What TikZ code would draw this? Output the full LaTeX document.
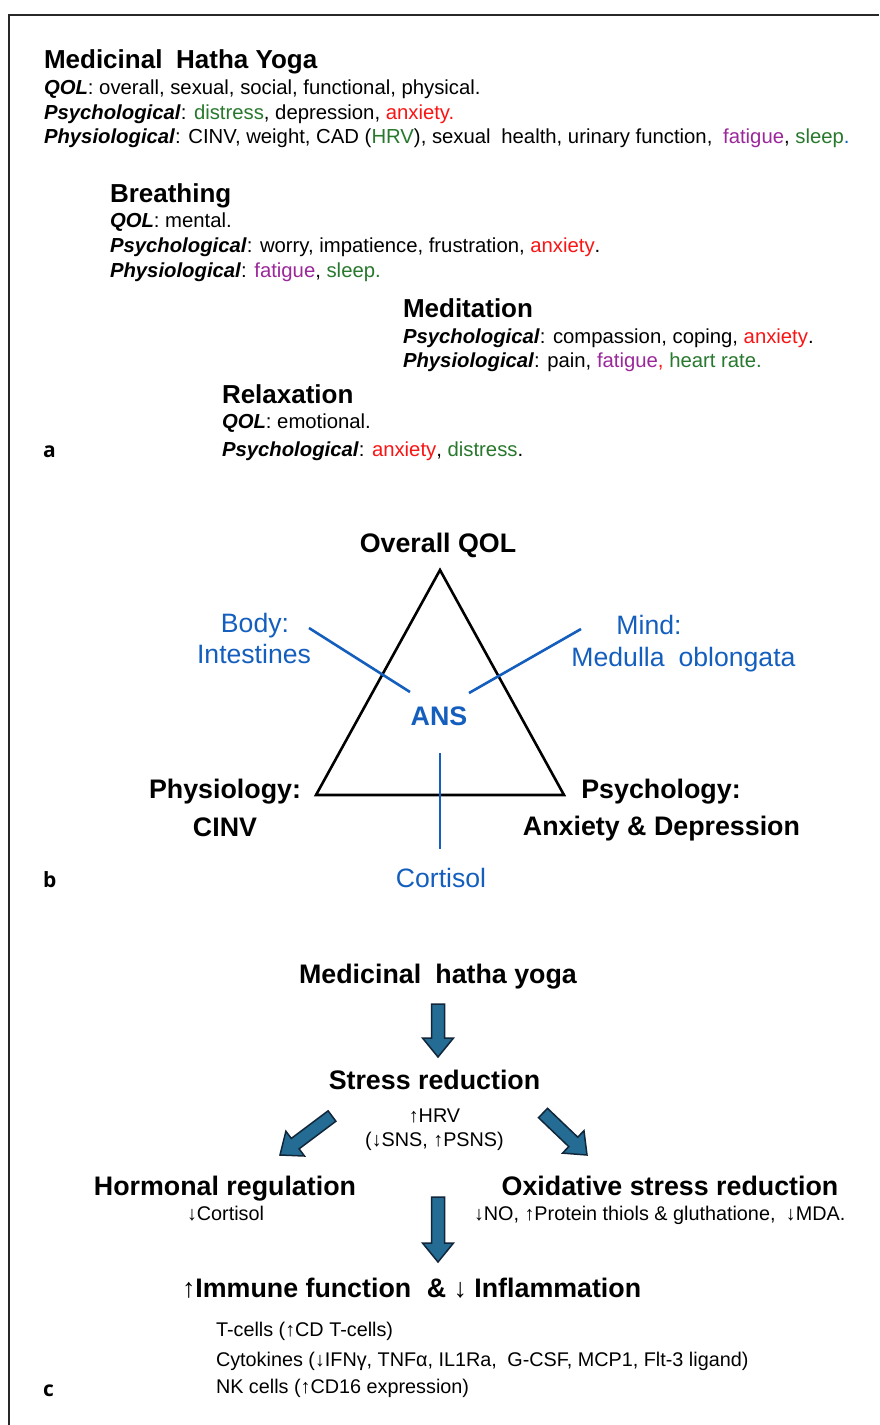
\documentclass[tikz,border=0pt]{standalone}
\usepackage{fontspec}
\setmainfont{Liberation Sans}
\newfontfamily\labfont{Open Sans}
\usetikzlibrary{calc}
\definecolor{tgreen}{RGB}{40,120,45}
\definecolor{tred}{RGB}{250,20,20}
\definecolor{tpurple}{RGB}{155,40,155}
\definecolor{tblue}{RGB}{20,95,190}
\definecolor{afill}{RGB}{36,108,148}
\definecolor{aline}{RGB}{18,38,58}
\definecolor{framec}{RGB}{40,40,40}
\tikzset{
  bw/.style={inner sep=0pt, outer sep=0pt, anchor=base west},
  bc/.style={inner sep=0pt, outer sep=0pt, anchor=base},
  headA/.style={bw, font=\fontsize{26}{30}\selectfont\bfseries},
  txtA/.style={bw, font=\fontsize{20.3}{24}\selectfont},
  headB/.style={bc, font=\fontsize{26.8}{30}\selectfont\bfseries},
  blueB/.style={bc, text=tblue, font=\fontsize{26.6}{30}\selectfont},
  txtC/.style={font=\fontsize{19.8}{24}\selectfont},
  panellab/.style={bw, font=\fontsize{21}{24}\labfont\bfseries},
  triline/.style={line width=2.6pt, line join=miter, black},
  blueline/.style={line width=2.6pt, tblue},
  fatarrow/.style={fill=afill, draw=aline, line width=1.5pt, line join=miter},
  framel/.style={line width=1.8pt, framec}
}
\newcommand\fatarrow[2]{%
  \coordinate (fa-h) at ($(#2)!19pt!(#1)$);
  \draw[fatarrow] ($(#1)!6.5pt!90:(#2)$) -- ($(fa-h)!6.5pt!90:(#2)$) -- ($(fa-h)!15.5pt!90:(#2)$) -- (#2) -- ($(fa-h)!15.5pt!-90:(#2)$) -- ($(fa-h)!6.5pt!-90:(#2)$) -- ($(#1)!6.5pt!-90:(#2)$) -- cycle;}
\newcommand\bi[1]{\textbf{\textit{#1}}}
\newcommand\xs{\hspace{0.25em}}
\begin{document}
\begin{tikzpicture}[x=1pt,y=-1pt]
\useasboundingbox (0,0) rectangle (879,1425);
\fill[white] (0,0) rectangle (879,1425);
% frame
\coordinate (fr-bl) at (9,1425);
\coordinate (fr-tl) at (9,15);
\coordinate (fr-tr) at (879,15);
\draw[framel] (fr-bl) -- (fr-tl) -- (fr-tr);

% ---------------- panel a
\node[headA] (mhy) at (44,68) {Medicinal\xs{} Hatha Yoga};
\node[txtA] (mhy1) at (44,94) {\bi{QOL}: overall, sexual, social, functional, physical.};
\node[txtA] (mhy2) at (44,119) {\bi{Psychological}: \textcolor{tgreen}{distress}, depression, \textcolor{tred}{anxiety.}};
\node[txtA] (mhy3) at (44,143) {\bi{Physiological}: CINV, weight, CAD (\textcolor{tgreen}{HRV}), sexual\xs{} health, urinary function,\xs{} \textcolor{tpurple}{fatigue}, \textcolor{tgreen}{sleep}\textcolor{tblue}{.}};

\node[headA] (br) at (110,202) {Breathing};
\node[txtA] (br1) at (110,227) {\bi{QOL}: mental.};
\node[txtA] (br2) at (110,252) {\bi{Psychological}: worry, impatience, frustration, \textcolor{tred}{anxiety}.};
\node[txtA] (br3) at (110,277) {\bi{Physiological}: \textcolor{tpurple}{fatigue}, \textcolor{tgreen}{sleep.}};

\node[headA] (med) at (403,317) {Meditation};
\node[txtA] (med1) at (403,343) {\bi{Psychological}: compassion, coping, \textcolor{tred}{anxiety}.};
\node[txtA] (med2) at (403,367) {\bi{Physiological}: pain, \textcolor{tpurple}{fatigue}\textcolor{tred}{,} \textcolor{tgreen}{heart rate.}};

\node[headA] (rel) at (222,403) {Relaxation};
\node[txtA] (rel1) at (222,428) {\bi{QOL}: emotional.};
\node[txtA] (rel2) at (222,456) {\bi{Psychological}: \textcolor{tred}{anxiety}, \textcolor{tgreen}{distress}.};

\node[panellab] (la) at (43,457) {a};

% ---------------- panel b
\coordinate (apex) at (440,570);
\coordinate (tbl) at (316,795);
\coordinate (tbr) at (564,795);
\draw[triline] (apex) -- (tbl) -- (tbr) -- cycle;

\node[headB] (oq) at (438,552) {Overall QOL};
\node[blueB] (body) at (255,632) {Body:};
\node[blueB] (intest) at (254,663) {Intestines};
\node[blueB] (mind) at (649,634) {Mind:};
\node[blueB] (medul) at (683.5,666) {Medulla\xs{} oblongata};
\node[bc, text=tblue, font=\fontsize{26.8}{30}\selectfont\bfseries] (ans) at (439,725) {ANS};
\node[headB] (phys) at (225,798) {Physiology:};
\node[headB] (cinv) at (225,836) {CINV};
\node[headB] (psych) at (661,798) {Psychology:};
\node[headB] (anx) at (661.5,835) {Anxiety \& Depression};
\node[blueB] (cort) at (441,887) {Cortisol};

\coordinate (body-e) at (309,628);
\coordinate (ans-l) at (410,692);
\coordinate (mind-e) at (581,629);
\coordinate (ans-r) at (469,693);
\coordinate (ans-b) at (440,753);
\coordinate (cort-t) at (440,849);
\draw[blueline] (body-e) -- (ans-l);
\draw[blueline] (mind-e) -- (ans-r);
\draw[blueline] (ans-b) -- (cort-t);

\node[panellab] (lb) at (43,887) {b};

% ---------------- panel c
\node[headB] (myoga) at (438,983) {Medicinal\xs{} hatha yoga};
\node[headB] (stress) at (434.5,1089) {Stress reduction};
\node[bc, txtC] (hrv) at (434.5,1122) {↑HRV};
\node[bc, txtC] (sns) at (434.5,1146) {(↓SNS, ↑PSNS)};
\node[headB] (horm) at (225,1195) {Hormonal regulation};
\node[headB] (oxid) at (670,1195) {Oxidative stress reduction};
\node[bw, txtC] (hcort) at (187,1220) {↓Cortisol};
\node[bw, txtC] (oxno) at (474,1220) {↓NO, ↑Protein thiols \& gluthatione,\xs{} ↓MDA.};
\node[bw, font=\fontsize{26.8}{30}\selectfont\bfseries] (immune) at (182,1297) {↑Immune function\hspace{0.3em} \& ↓ Inflammation};
\node[bw, txtC] (tcell) at (216,1336) {T-cells (↑CD T-cells)};
\node[bw, txtC] (cyto) at (216,1366.5) {Cytokines (↓IFNγ, TNFα, IL1Ra,\xs{} G-CSF, MCP1, Flt-3 ligand)};
\node[bw, txtC] (nk) at (216,1393) {NK cells (↑CD16 expression)};

\coordinate (a1s) at (438,1004);
\coordinate (a1e) at (438,1057);
\coordinate (a2s) at (332,1116);
\coordinate (a2e) at (280,1155);
\coordinate (a3s) at (543,1113);
\coordinate (a3e) at (587,1155);
\coordinate (a4s) at (438,1197);
\coordinate (a4e) at (438,1262);
\fatarrow{a1s}{a1e}
\fatarrow{a2s}{a2e}
\fatarrow{a3s}{a3e}
\fatarrow{a4s}{a4e}

\node[panellab] (lc) at (43,1396) {c};
\end{tikzpicture}
\end{document}
